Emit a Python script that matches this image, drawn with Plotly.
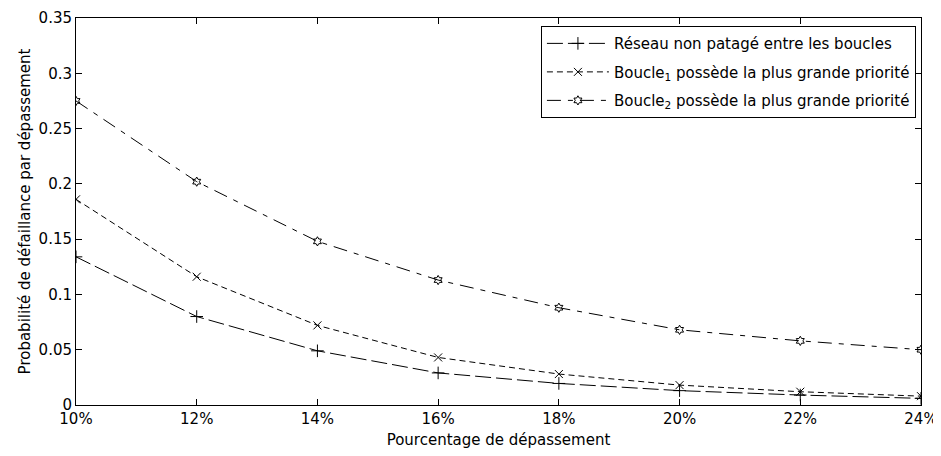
import plotly.graph_objects as go

x_pct = [10, 12, 14, 16, 18, 20, 22, 24]
x_labels = ["10%", "12%", "14%", "16%", "18%", "20%", "22%", "24%"]
reseau = [0.134, 0.080, 0.049, 0.029, 0.0195, 0.013, 0.009, 0.006]
boucle1 = [0.186, 0.116, 0.072, 0.043, 0.028, 0.018, 0.012, 0.008]
boucle2 = [0.275, 0.202, 0.148, 0.113, 0.088, 0.068, 0.058, 0.050]
y_ticks = [0, 0.05, 0.1, 0.15, 0.2, 0.25, 0.3, 0.35]
y_labels = ["0", "0.05", "0.1", "0.15", "0.2", "0.25", "0.3", "0.35"]

FONT = "DejaVu Sans, Liberation Sans, Arial, sans-serif"

fig = go.Figure()
fig.add_trace(go.Scatter(
    x=x_pct, y=reseau, mode="lines+markers", legendgroup="a",
    name="Réseau non patagé entre les boucles",
    line=dict(color="black", width=1, dash="16px,5px"),
    marker=dict(symbol="cross-thin-open", size=9, line=dict(color="black", width=1), color="black"),
))
fig.add_trace(go.Scatter(
    x=x_pct, y=boucle1, mode="lines+markers", legendgroup="b",
    name="Boucle<sub>1</sub> possède la plus grande priorité",
    line=dict(color="black", width=1, dash="6px,4px"),
    marker=dict(symbol="x-thin-open", size=8, line=dict(color="black", width=1), color="black"),
))
fig.add_trace(go.Scatter(
    x=x_pct, y=boucle2, mode="lines+markers", legendgroup="c",
    name="Boucle<sub>2</sub> possède la plus grande priorité",
    line=dict(color="black", width=1, dash="14px,7px,5px,7px"),
    marker=dict(symbol="hexagram-open", size=7, line=dict(color="black", width=1), color="black"),
))

axis_common = dict(
    showline=True, linecolor="black", linewidth=1, mirror="ticks",
    ticks="inside", ticklen=6, tickcolor="black", showgrid=False, zeroline=False,
    automargin=False,
    tickfont=dict(family=FONT, size=15, color="black"),
)

fig.update_layout(
    width=933, height=450,
    margin=dict(l=68, r=20, t=10, b=53),
    paper_bgcolor="white", plot_bgcolor="white",
    font=dict(family=FONT, size=15, color="black"),
    xaxis=dict(range=[10, 24], tickvals=x_pct, ticktext=x_labels,
               title=dict(text="Pourcentage de dépassement", standoff=7, font=dict(size=15)),
               **axis_common),
    yaxis=dict(range=[0, 0.35], tickvals=y_ticks, ticktext=y_labels,
               title=dict(text="Probabilité de défaillance par dépassement", standoff=4, font=dict(size=15)),
               **axis_common),
    legend=dict(x=0.994, y=0.979, xanchor="right", yanchor="top",
                bordercolor="black", borderwidth=1, bgcolor="white",
                font=dict(size=15, family=FONT), tracegroupgap=6, itemwidth=62),
    showlegend=True,
)

fig.write_html("out.html")
